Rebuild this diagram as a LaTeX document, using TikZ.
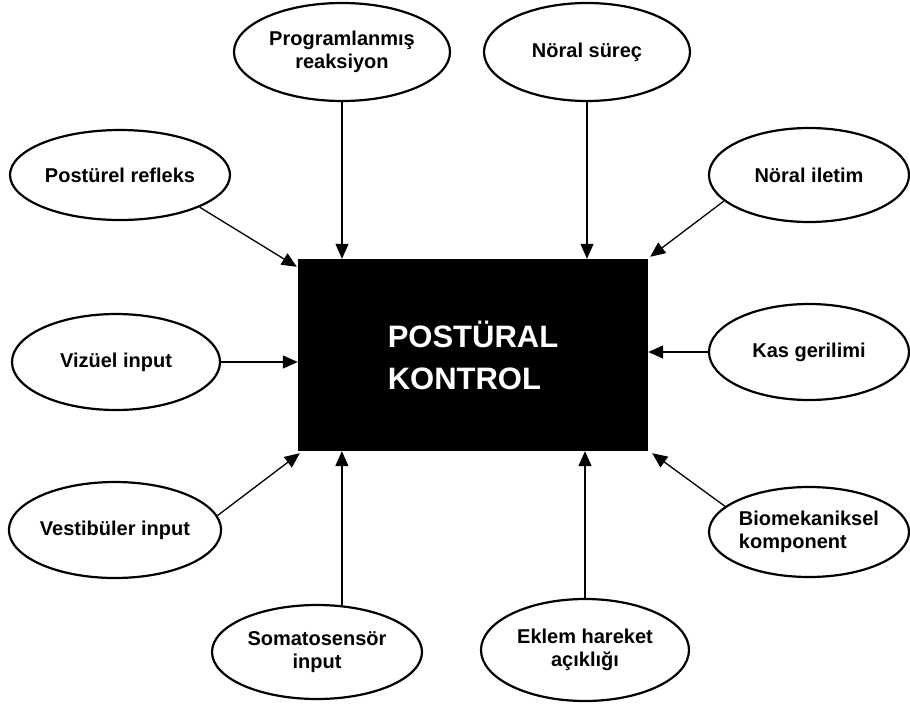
\documentclass[tikz,border=0pt]{standalone}
\usepackage{fontspec}
\setmainfont{Liberation Sans}
\usetikzlibrary{shapes.geometric,arrows.meta}
\begin{document}
\begin{tikzpicture}[x=1pt,y=-1pt,
  oval/.style={ellipse,draw=black,line width=2.2pt,inner sep=0pt,
    font=\fontsize{20}{23.5}\selectfont\bfseries,align=center},
  arr/.style={line width=1.3pt,-{Triangle[length=15pt,width=13pt]}},
  centre/.style={fill=black,minimum width=350pt,minimum height=192pt,inner sep=0pt,
    text=white,font=\fontsize{31}{42}\selectfont\bfseries,align=left}]
\useasboundingbox (0,0) rectangle (910,704);
\node[centre] (box) at (473,355) {POSTÜRAL\\KONTROL};
\node[oval,minimum width=216pt,minimum height=98pt] (pr) at (342,52) {Programlanmış\\reaksiyon};
\node[oval,minimum width=206pt,minimum height=98pt] (ns) at (587,52) {Nöral süreç};
\node[oval,minimum width=220pt,minimum height=90pt] (pf) at (120,175) {Postürel refleks};
\node[oval,minimum width=200pt,minimum height=94pt] (ni) at (809,175) {Nöral iletim};
\node[oval,minimum width=208pt,minimum height=96pt] (vi) at (116,362) {Vizüel input};
\node[oval,minimum width=200pt,minimum height=96pt] (kg) at (809,352) {Kas gerilimi};
\node[oval,minimum width=210pt,minimum height=96pt] (vb) at (115,530) {Vestibüler input};
\node[oval,minimum width=200pt,minimum height=90pt,align=left] (bk) at (809,532) {Biomekaniksel\\komponent};
\node[oval,minimum width=210pt,minimum height=94pt] (so) at (317,652) {Somatosensör\\input};
\node[oval,minimum width=208pt,minimum height=102pt] (ek) at (585,650) {Eklem hareket\\açıklığı};
\draw[arr] (pr) -- (pr |- box.north);
\draw[arr] (ns) -- (ns |- box.north);
\draw[arr] (pf.-22) -- ([xshift=-1pt,yshift=-8pt]box.north west);
\draw[arr] (ni.197) -- ([xshift=2pt,yshift=2pt]box.north east);
\draw[arr] (vi) -- (vi -| box.west);
\draw[arr] (kg) -- (kg -| box.east);
\draw[arr] (vb.8) -- ([xshift=2pt,yshift=-2pt]box.south west);
\draw[arr] (bk.163) -- ([xshift=4pt,yshift=-2pt]box.south east);
\draw[arr] (so.62) -- (so.62 |- box.south);
\draw[arr] (ek) -- (ek |- box.south);
\end{tikzpicture}
\end{document}
